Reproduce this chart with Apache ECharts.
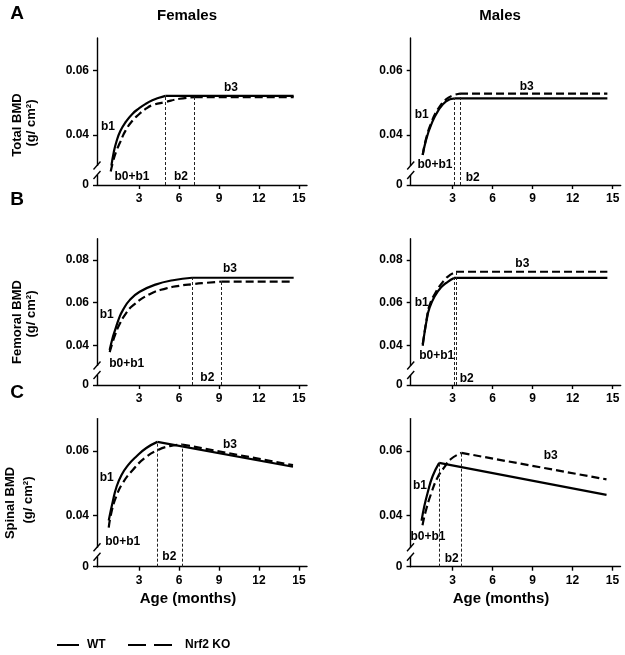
<!DOCTYPE html>
<html><head><meta charset="utf-8">
<script src="https://cdn.jsdelivr.net/npm/echarts@6/dist/echarts.min.js"></script>
<style>html,body{margin:0;padding:0;background:#fff}#c{width:625px;height:655px}</style>
</head><body><div id="c"></div>
<script>
// ---------- data (age in months, BMD in g/cm2) ----------
const xTicks = [3, 6, 9, 12, 15];
const yTicksTotal = [0.04, 0.06];
const yTicksFemoral = [0.04, 0.06, 0.08];
const yTicksSpinal = [0.04, 0.06];
const colTitles = ['Females', 'Males'];
const rowTitles = ['Total BMD', 'Femoral BMD', 'Spinal BMD'];
const seriesNames = ['WT', 'Nrf2 KO'];

const totalF_WT = [[0.93,0.0305],[1.1,0.0345],[1.3,0.0378],[1.6,0.0412],[2.0,0.0440],[2.5,0.0465],[3.0,0.0482],[3.5,0.0496],[4.0,0.0507],[4.5,0.0515],[4.98,0.0521],[14.6,0.0521]];
const totalF_KO = [[0.88,0.0287],[1.1,0.0325],[1.3,0.0350],[1.55,0.0374],[2.0,0.0414],[2.55,0.0446],[3.0,0.0464],[3.55,0.0482],[4.0,0.0492],[4.98,0.0502],[6.05,0.0512],[7.18,0.0517],[14.6,0.0517]];
const totalM_WT = [[0.75,0.0338],[1.0,0.0384],[1.38,0.0431],[1.88,0.0473],[2.5,0.0504],[3.15,0.0513],[14.6,0.0513]];
const totalM_KO = [[0.75,0.0338],[1.0,0.0388],[1.38,0.0436],[1.88,0.0479],[2.5,0.0510],[3.0,0.0522],[3.55,0.0528],[14.6,0.0528]];

const femF_WT = [[0.8,0.0378],[1.0,0.0430],[1.2,0.0470],[1.55,0.0535],[1.8,0.0566],[2.3,0.0612],[3.05,0.0651],[4.3,0.0686],[5.55,0.0705],[6.98,0.0717],[14.6,0.0717]];
const femF_KO = [[0.8,0.0368],[1.0,0.0410],[1.2,0.0448],[1.55,0.0500],[2.0,0.0548],[2.55,0.0587],[3.8,0.0640],[5.05,0.0667],[6.0,0.0679],[7.0,0.0687],[8.0,0.0693],[9.2,0.0699],[14.6,0.0699]];
const femM_WT = [[0.75,0.0398],[0.88,0.0456],[1.05,0.0519],[1.25,0.0573],[1.63,0.0628],[2.13,0.0672],[2.63,0.0698],[3.1,0.0716],[14.6,0.0716]];
const femM_KO = [[0.75,0.0405],[0.9,0.0465],[1.05,0.0525],[1.25,0.0585],[1.75,0.0651],[2.38,0.0706],[2.8,0.0730],[3.25,0.0745],[14.6,0.0745]];

const spiF_WT = [[0.73,0.0385],[1.05,0.0447],[1.3,0.0487],[1.68,0.0525],[2.18,0.0556],[2.8,0.0583],[3.55,0.0609],[4.38,0.0628],[14.55,0.0551]];
const spiF_KO = [[0.73,0.0363],[0.93,0.0410],[1.3,0.0460],[1.8,0.0502],[2.55,0.0542],[3.43,0.0578],[4.38,0.0602],[5.3,0.0615],[6.23,0.0620],[14.55,0.0556]];
const spiM_WT = [[0.68,0.0384],[0.88,0.0428],[1.13,0.0470],[1.5,0.0521],[2.0,0.0563],[14.55,0.0464]];
const spiM_KO = [[0.75,0.0370],[1.0,0.0415],[1.38,0.0466],[1.88,0.0518],[2.38,0.0549],[2.88,0.0575],[3.68,0.0594],[14.55,0.0512]];

// breakpoint ages (b2) for [WT, KO]
const totalF_b2 = [4.98, 7.18];
const totalM_b2 = [3.15, 3.55];
const femF_b2 = [6.98, 9.2];
const femM_b2 = [3.1, 3.25];
const spiF_b2 = [4.38, 6.23];
const spiM_b2 = [2.0, 3.68];

// ---------- layout ----------
const FONT = "'Liberation Sans', Arial, Helvetica, sans-serif";
const panels = [
  {wt: totalF_WT, ko: totalF_KO, b2: totalF_b2, yt: yTicksTotal, left: 97, top: 38, height: 147, ymin: 0.0245, ymax: 0.07,
   lab: [[108,127,'b1'],[132,177,'b0+b1'],[181,177,'b2'],[231,88,'b3']]},
  {wt: totalM_WT, ko: totalM_KO, b2: totalM_b2, yt: yTicksTotal, left: 410.7, top: 38, height: 147, ymin: 0.0245, ymax: 0.07,
   lab: [[421.7,115,'b1'],[435,165,'b0+b1'],[472.7,178,'b2'],[526.7,87,'b3']]},
  {wt: femF_WT, ko: femF_KO, b2: femF_b2, yt: yTicksFemoral, left: 97, top: 238.7, height: 146.3, ymin: 0.0214, ymax: 0.09,
   lab: [[106.7,315,'b1'],[126.7,364,'b0+b1'],[207.3,378,'b2'],[230,269,'b3']]},
  {wt: femM_WT, ko: femM_KO, b2: femM_b2, yt: yTicksFemoral, left: 410.7, top: 238.7, height: 146.3, ymin: 0.0214, ymax: 0.09,
   lab: [[421.7,302.7,'b1'],[436.7,355.7,'b0+b1'],[466.7,379,'b2'],[522.3,263.3,'b3']]},
  {wt: spiF_WT, ko: spiF_KO, b2: spiF_b2, yt: yTicksSpinal, left: 97, top: 418.6, height: 148.1, ymin: 0.0242, ymax: 0.07,
   lab: [[106.7,477.3,'b1'],[122.7,541.7,'b0+b1'],[169.3,556.7,'b2'],[230,445,'b3']]},
  {wt: spiM_WT, ko: spiM_KO, b2: spiM_b2, yt: yTicksSpinal, left: 410.5, top: 418.6, height: 148.1, ymin: 0.0242, ymax: 0.07,
   lab: [[420,486,'b1'],[428,536.7,'b0+b1'],[451.7,558.3,'b2'],[550.7,456,'b3']]}
];
const XMIN = -0.15, XMAX = 15.6, GW = 210;

const grids = [], xAxes = [], yAxes = [], series = [];
const axisLineStyle = {color: '#000', width: 1.4};
const labelStyle = {color: '#000', fontWeight: 'bold', fontSize: 12, fontFamily: FONT};

panels.forEach((p, i) => {
  grids.push({left: p.left, top: p.top, width: GW, height: p.height, containLabel: false});
  xAxes.push({type: 'value', gridIndex: i, min: XMIN, max: XMAX,
    axisLine: {show: true, onZero: false, lineStyle: axisLineStyle},
    axisTick: {show: true, customValues: xTicks, length: 4, lineStyle: axisLineStyle},
    axisLabel: Object.assign({customValues: xTicks, margin: 8}, labelStyle),
    splitLine: {show: false}});
  const yv = [p.ymin].concat(p.yt);
  yAxes.push({type: 'value', gridIndex: i, min: p.ymin, max: p.ymax,
    axisLine: {show: true, onZero: false, lineStyle: axisLineStyle},
    axisTick: {show: true, customValues: yv, length: 4, lineStyle: axisLineStyle},
    axisLabel: Object.assign({customValues: yv, margin: 8,
      formatter: v => (v < 0.03 ? '0' : v.toFixed(2))}, labelStyle),
    splitLine: {show: false}});
  [p.wt, p.ko].forEach((d, k) => {
    const bx = p.b2[k];
    const bi = d.findIndex(pt => pt[0] === bx);
    const curve = d.slice(0, bi + 1);
    const tail = d.slice(bi);
    const ls = {color: '#000', width: 2.2, type: k === 0 ? 'solid' : [8, 4]};
    series.push({type: 'line', name: seriesNames[k], xAxisIndex: i, yAxisIndex: i, data: curve,
      showSymbol: false, symbol: 'none', smooth: 0.5, lineStyle: ls, animation: false, silent: true,
      markLine: {silent: true, symbol: 'none', animation: false, label: {show: false},
        lineStyle: {color: '#222', width: 1, type: [3, 2]},
        data: [[{coord: [bx, p.ymin]}, {coord: [bx, d[bi][1]]}]]}});
    series.push({type: 'line', name: seriesNames[k], xAxisIndex: i, yAxisIndex: i, data: tail,
      showSymbol: false, symbol: 'none', smooth: false, lineStyle: ls, animation: false, silent: true});
  });
});

const chart = echarts.init(document.getElementById('c'), null, {renderer: 'canvas'});
chart.setOption({backgroundColor: '#fff', animation: false, grid: grids, xAxis: xAxes, yAxis: yAxes, series: series});

// ---------- annotations ----------
const g = [];
const txt = (x, y, s, size, opts) => Object.assign({type: 'text', x: x, y: y, z: 50,
  style: {text: s, fill: '#000', font: 'bold ' + size + 'px ' + FONT, align: 'center', verticalAlign: 'middle'}}, opts || {});
panels.forEach((p, i) => {
  p.lab.forEach(l => g.push(txt(l[0], l[1], l[2], 12)));
  const o = chart.convertToPixel({gridIndex: i}, [XMIN, p.ymin]);
  const ax = o[0], ay = o[1];
  g.push({type: 'rect', z: 60, shape: {x: ax - 2.5, y: ay - 19, width: 5, height: 9}, style: {fill: '#fff'}});
  [19.5, 10].forEach(off => g.push({type: 'line', z: 61,
    shape: {x1: ax - 3.5, y1: ay - off + 4, x2: ax + 3.5, y2: ay - off - 4}, style: {stroke: '#000', lineWidth: 1.4}}));
});
g.push(txt(187, 16, colTitles[0], 15));
g.push(txt(500, 16, colTitles[1], 15));
g.push(txt(188, 599, 'Age (months)', 15));
g.push(txt(501, 599, 'Age (months)', 15));
g.push(txt(17, 13.5, 'A', 19));
g.push(txt(17, 200, 'B', 19));
g.push(txt(17, 393, 'C', 19));
const rot = {rotation: Math.PI / 2};
g.push(txt(17.5, 125, rowTitles[0], 13, rot));
g.push(txt(31, 123, '(g/ cm²)', 13, rot));
g.push(txt(17, 322, rowTitles[1], 13, rot));
g.push(txt(31, 314, '(g/ cm²)', 13, rot));
g.push(txt(10.5, 503, rowTitles[2], 13, rot));
g.push(txt(28.5, 500, '(g/ cm²)', 13, rot));
// legend
g.push({type: 'line', shape: {x1: 57, y1: 645, x2: 79, y2: 645}, style: {stroke: '#000', lineWidth: 2}});
g.push(txt(87, 645, seriesNames[0], 12, {style: {text: seriesNames[0], fill: '#000', font: 'bold 12px ' + FONT, align: 'left', verticalAlign: 'middle'}}));
g.push({type: 'line', shape: {x1: 128, y1: 645, x2: 172, y2: 645}, style: {stroke: '#000', lineWidth: 2, lineDash: [18, 8]}});
g.push(txt(185, 645, seriesNames[1], 12, {style: {text: seriesNames[1], fill: '#000', font: 'bold 12px ' + FONT, align: 'left', verticalAlign: 'middle'}}));
chart.setOption({graphic: {elements: g}});
</script></body></html>
